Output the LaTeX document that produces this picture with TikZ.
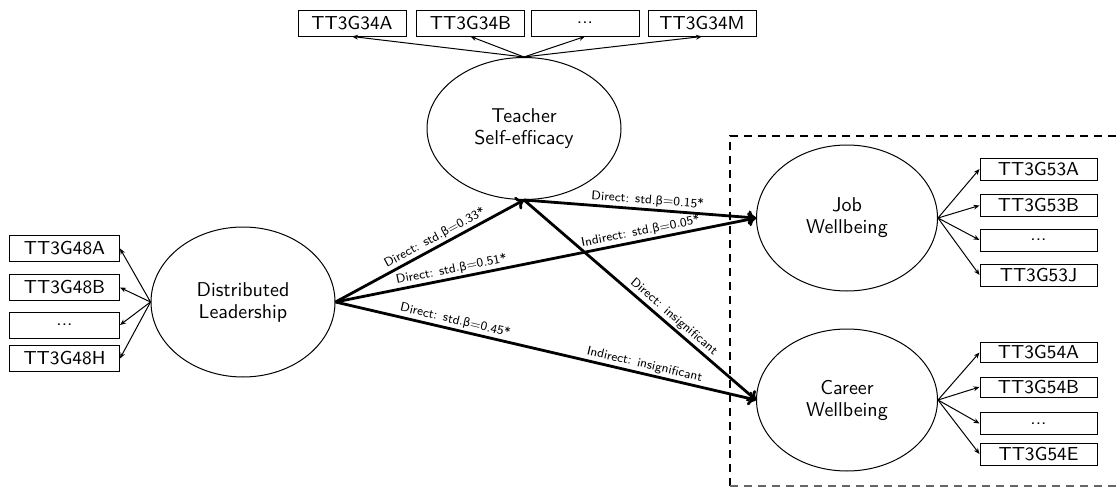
\documentclass[tikz,border=0pt]{standalone}
\usepackage{fontspec}
\newfontfamily\grkfont{DejaVu Sans}[Scale=0.92]
\newcommand{\bet}{{\grkfont β}}
\usetikzlibrary{shapes.geometric,arrows.meta}
\begin{document}
\begin{tikzpicture}[x=0.5pt,y=-0.5pt,
  font=\sffamily,
  itembox/.style={draw,line width=0.5pt,inner sep=0pt,minimum width=55pt,minimum height=13pt,font=\sffamily\fontsize{9.4}{11}\selectfont},
  rbox/.style={itembox,minimum width=58.5pt,minimum height=11pt},
  latent/.style={draw,ellipse,line width=0.5pt,inner sep=0pt,align=center,font=\sffamily\fontsize{10}{11}\selectfont},
  load/.style={line width=0.5pt,-{Stealth[length=3pt,width=2.4pt]}},
  path/.style={line width=1.4pt,-{To[length=4pt,width=7pt]}},
  lab/.style={sloped,above,inner sep=1pt,font=\sffamily\fontsize{6.3}{7}\selectfont}
]
\useasboundingbox (0,0) rectangle (1120,487);

% dashed outcome region
\coordinate (r1) at (730,486);
\coordinate (r2) at (730,136);
\coordinate (r3) at (1121,136);
\coordinate (r4) at (1121,486);
\draw[line width=0.7pt,dash pattern=on 4pt off 3pt] (r1) -- (r2) -- (r3);
\draw[line width=0.7pt,dash pattern=on 4pt off 3pt,black!60] (r1) -- (r4);

% latent variables
\node[latent,minimum width=92pt,minimum height=75pt] (dl) at (243,302) {Distributed\\Leadership};
\node[latent,minimum width=97pt,minimum height=71pt] (tse) at (524,128.5) {Teacher\\Self-efficacy};
\node[latent,minimum width=90.5pt,minimum height=73pt] (job) at (847,218) {Job\\Wellbeing};
\node[latent,minimum width=90.5pt,minimum height=71pt] (car) at (847,400) {Career\\Wellbeing};

% indicators DL
\node[itembox] (a1) at (64.5,248.5) {TT3G48A};
\node[itembox] (a2) at (64.5,287.5) {TT3G48B};
\node[itembox] (a3) at (64.5,325) {...};
\node[itembox] (a4) at (64.5,358.5) {TT3G48H};

% indicators TSE
\node[itembox,minimum width=54pt] (t1) at (352,23) {TT3G34A};
\node[itembox,minimum width=54pt] (t2) at (470.5,23) {TT3G34B};
\node[itembox,minimum width=54pt] (t3) at (585,23) {...};
\node[itembox,minimum width=54pt] (t4) at (702,23) {TT3G34M};

% indicators Job
\node[rbox] (j1) at (1038.5,169) {TT3G53A};
\node[rbox] (j2) at (1038.5,205.5) {TT3G53B};
\node[rbox] (j3) at (1038.5,240) {...};
\node[rbox] (j4) at (1038.5,275) {TT3G53J};

% indicators Career
\node[rbox,minimum height=10pt] (c1) at (1038.5,352.5) {TT3G54A};
\node[rbox,minimum height=10pt] (c2) at (1038.5,387) {TT3G54B};
\node[rbox] (c3) at (1038.5,423.5) {...};
\node[rbox] (c4) at (1038.5,454) {TT3G54E};

% loadings
\foreach \b in {a1,a2,a3,a4} \draw[load] (dl.west) -- (\b.east);
\foreach \b in {t1,t2,t3,t4} \draw[load] (tse.north) -- (\b.south);
\foreach \b in {j1,j2,j3,j4} \draw[load] (job.east) -- (\b.west);
\foreach \b in {c1,c2,c3,c4} \draw[load] (car.east) -- (\b.west);

% structural paths
\draw[path] (dl.east) -- node[lab,pos=0.55]{Direct: std.\bet=0.33*} (tse.south);
\draw[path] (dl.east) -- node[lab,pos=0.28]{Direct: std.\bet=0.51*}
                        node[lab,pos=0.73]{Indirect: std.\bet=0.05*} (job.west);
\draw[path] (dl.east) -- node[lab,pos=0.28]{Direct: std.\bet=0.45*}
                        node[lab,pos=0.73]{Indirect: insignificant} (car.west);
\draw[path] (tse.south) -- node[lab,pos=0.53]{Direct: std.\bet=0.15*} (job.west);
\draw[path] (tse.south) -- node[lab,pos=0.62]{Direct: insignificant} (car.west);
\end{tikzpicture}
\end{document}
